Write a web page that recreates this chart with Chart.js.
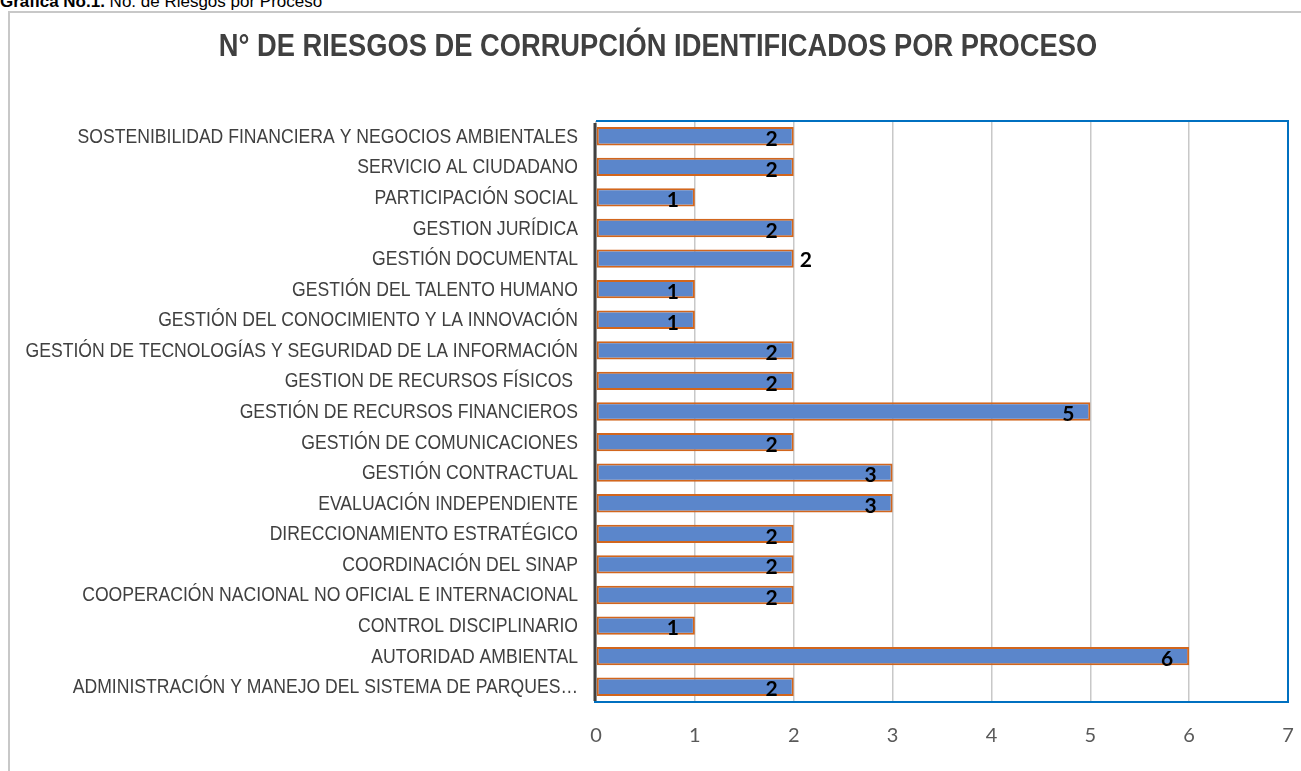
<!DOCTYPE html>
<html>
<head>
<meta charset="utf-8">
<script src="https://cdn.jsdelivr.net/npm/chart.js@4"></script>
<style>
  html, body { margin: 0; padding: 0; background: #fff; overflow: hidden; }
  #caption {
    position: absolute; left: 0px; top: -8px;
    font-family: "Liberation Sans", Arial, sans-serif; font-size: 17px; color: #000;
    white-space: nowrap;
  }
  #frame {
    position: absolute; left: 8px; top: 11px; width: 1400px; height: 900px;
    border: 2px solid #c8c8c8; box-sizing: border-box;
  }
  #wrap { position: absolute; left: 0; top: 0; width: 1301px; height: 771px; }
</style>
</head>
<body>
<div id="caption"><b>Gráfica No.1.</b> No. de Riesgos por Proceso</div>
<div id="frame"></div>
<div id="wrap"><canvas id="riesgosChart" width="1301" height="771"></canvas></div>
<script>
// Processes, top to bottom as in the picture
const procesos = [
  "SOSTENIBILIDAD FINANCIERA Y NEGOCIOS AMBIENTALES",
  "SERVICIO AL CIUDADANO",
  "PARTICIPACIÓN SOCIAL",
  "GESTION JURÍDICA",
  "GESTIÓN DOCUMENTAL",
  "GESTIÓN DEL TALENTO HUMANO",
  "GESTIÓN DEL CONOCIMIENTO Y LA INNOVACIÓN",
  "GESTIÓN DE TECNOLOGÍAS Y SEGURIDAD DE LA INFORMACIÓN",
  "GESTION DE RECURSOS FÍSICOS ",
  "GESTIÓN DE RECURSOS FINANCIEROS",
  "GESTIÓN DE COMUNICACIONES",
  "GESTIÓN CONTRACTUAL",
  "EVALUACIÓN INDEPENDIENTE",
  "DIRECCIONAMIENTO ESTRATÉGICO",
  "COORDINACIÓN DEL SINAP",
  "COOPERACIÓN NACIONAL NO OFICIAL E INTERNACIONAL",
  "CONTROL DISCIPLINARIO",
  "AUTORIDAD AMBIENTAL",
  "ADMINISTRACIÓN Y MANEJO DEL SISTEMA DE PARQUES…"
];
const riesgos = [2, 2, 1, 2, 2, 1, 1, 2, 2, 5, 2, 3, 3, 2, 2, 2, 1, 6, 2];
// labels drawn outside the bar end
const labelFuera = ["GESTIÓN DOCUMENTAL"];
const titulo = "N° DE RIESGOS DE CORRUPCIÓN IDENTIFICADOS POR PROCESO";
const ejeMax = 7;

// no narrow font installed, so squeeze Liberation Sans horizontally
function textoAngosto(ctx, txt, x, y, escala) {
  ctx.save();
  ctx.translate(x, y);
  ctx.scale(escala, 1);
  ctx.fillText(txt, 0, 0);
  ctx.restore();
}

const extras = {
  id: "extras",
  afterDraw(chart) {
    const { ctx, chartArea: a } = chart;
    const yScale = chart.scales.y;
    ctx.save();

    // title
    ctx.font = "bold 32px 'Liberation Sans', Arial, sans-serif";
    ctx.fillStyle = "#404040";
    ctx.textAlign = "center";
    ctx.textBaseline = "middle";
    textoAngosto(ctx, titulo, 658, 47, 0.853);

    // category labels
    ctx.font = "20px 'Liberation Sans', Arial, sans-serif";
    ctx.textAlign = "right";
    procesos.forEach((p, i) => {
      textoAngosto(ctx, p, a.left - 18, yScale.getPixelForTick(i) + 1, 0.88);
    });

    // value labels
    const meta = chart.getDatasetMeta(0);
    ctx.font = "bold 21px Lato, 'DejaVu Sans', sans-serif";
    ctx.fillStyle = "#000";
    meta.data.forEach((bar, i) => {
      const txt = String(riesgos[i]);
      if (labelFuera.includes(procesos[i])) {
        ctx.textAlign = "left";
        ctx.fillText(txt, bar.x + 6, bar.y + 2);
      } else {
        ctx.textAlign = "center";
        ctx.fillText(txt, bar.x - 22, bar.y + 3);
      }
    });

    // blue frame on top, right, bottom
    ctx.strokeStyle = "#0070c0";
    ctx.lineWidth = 2;
    ctx.beginPath();
    ctx.moveTo(a.left, a.top);
    ctx.lineTo(a.right, a.top);
    ctx.lineTo(a.right, a.bottom);
    ctx.lineTo(a.left - 2, a.bottom);
    ctx.stroke();
    // dark category axis line
    ctx.strokeStyle = "#404040";
    ctx.lineWidth = 3;
    ctx.beginPath();
    ctx.moveTo(a.left - 1, a.top + 2);
    ctx.lineTo(a.left - 1, a.bottom - 1);
    ctx.stroke();
    ctx.restore();
  }
};

const ctx = document.getElementById("riesgosChart").getContext("2d");
const riesgosChart = new Chart(ctx, {
  type: "bar",
  data: {
    labels: procesos,
    datasets: [
      {
        data: riesgos,
        backgroundColor: "#5b86cb",
        borderColor: "#d2661d",
        borderWidth: 2,
        borderSkipped: false,
        barPercentage: 0.6,
        categoryPercentage: 1,
      },
    ],
  },
  options: {
    indexAxis: "y",
    responsive: false,
    animation: false,
    layout: { padding: { left: 0, right: 13, top: 121, bottom: 0 } },
    plugins: {
      legend: { display: false },
      tooltip: { enabled: false },
      title: { display: false },
    },
    scales: {
      x: {
        min: 0,
        max: ejeMax,
        ticks: {
          stepSize: 1,
          color: "#595959",
          padding: 22,
          font: { family: "Lato, 'Open Sans', sans-serif", size: 20 },
        },
        grid: { color: "#c8c8c8", lineWidth: 1.5, drawTicks: false },
        border: { display: false },
        afterFit(scale) {
          scale.height = 69;
          scale.paddingLeft = 0;
          scale.paddingRight = 0;
        },
      },
      y: {
        ticks: { display: false },
        grid: { display: false, drawTicks: false },
        border: { display: false },
        afterFit(scale) { scale.width = 596; },
      },
    },
  },
  plugins: [extras],
});
</script>
</body>
</html>
